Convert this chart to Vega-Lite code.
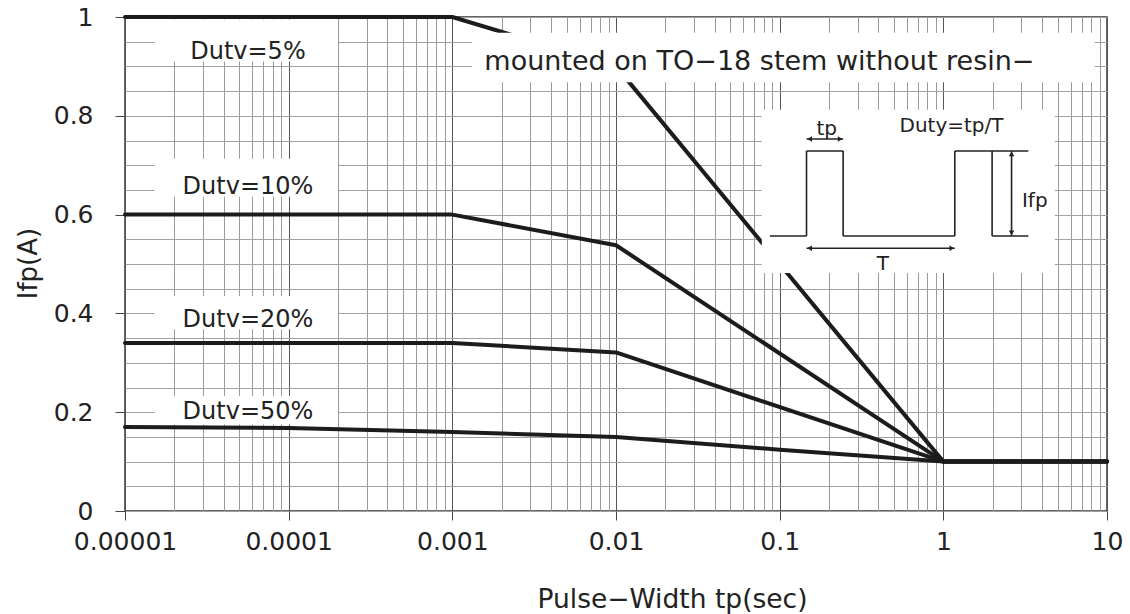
{
  "$schema": "https://vega.github.io/schema/vega-lite/v6.json",
  "width": 982,
  "height": 494,
  "autosize": {"type": "none"},
  "padding": {"left": 125, "top": 17, "right": 23, "bottom": 103},
  "background": "white",
  "config": {
    "view": {"stroke": "#333", "strokeWidth": 1.5},
    "font": "DejaVu Sans",
    "text": {"font": "DejaVu Sans"}
  },
  "datasets": {
    "curves": [
      {"series": "5%", "x": 0.00001, "y": 1.0},
      {"series": "5%", "x": 0.001, "y": 1.0},
      {"series": "5%", "x": 0.01, "y": 0.9},
      {"series": "5%", "x": 1, "y": 0.1},
      {"series": "5%", "x": 10, "y": 0.1},
      {"series": "10%", "x": 0.00001, "y": 0.6},
      {"series": "10%", "x": 0.001, "y": 0.6},
      {"series": "10%", "x": 0.01, "y": 0.538},
      {"series": "10%", "x": 1, "y": 0.1},
      {"series": "10%", "x": 10, "y": 0.1},
      {"series": "20%", "x": 0.00001, "y": 0.34},
      {"series": "20%", "x": 0.001, "y": 0.34},
      {"series": "20%", "x": 0.01, "y": 0.321},
      {"series": "20%", "x": 1, "y": 0.1},
      {"series": "20%", "x": 10, "y": 0.1},
      {"series": "50%", "x": 0.00001, "y": 0.17},
      {"series": "50%", "x": 0.0001, "y": 0.168},
      {"series": "50%", "x": 0.001, "y": 0.16},
      {"series": "50%", "x": 0.01, "y": 0.15},
      {"series": "50%", "x": 0.1, "y": 0.124},
      {"series": "50%", "x": 1, "y": 0.1},
      {"series": "50%", "x": 10, "y": 0.1}
    ],
    "underBoxes": [
      {"x": 0.0000152, "x2": 0.0002, "y": 0.91, "y2": 0.995},
      {"x": 0.0000152, "x2": 0.0002, "y": 0.636, "y2": 0.713},
      {"x": 0.0000152, "x2": 0.0002, "y": 0.368, "y2": 0.435},
      {"x": 0.0000152, "x2": 0.0002, "y": 0.175, "y2": 0.233}
    ],
    "overBoxes": [
      {"x": 0.00132, "x2": 8.4, "y": 0.868, "y2": 0.968},
      {"x": 0.0778, "x2": 4.8, "y": 0.482, "y2": 0.812}
    ],
    "inset": [
      {"x": 0.0871, "x2": 0.1459, "y": 0.5567, "y2": 0.5567},
      {"x": 0.1459, "x2": 0.1459, "y": 0.5567, "y2": 0.7287},
      {"x": 0.1459, "x2": 0.2443, "y": 0.7287, "y2": 0.7287},
      {"x": 0.2443, "x2": 0.2443, "y": 0.7287, "y2": 0.5567},
      {"x": 0.2443, "x2": 1.175, "y": 0.5567, "y2": 0.5567},
      {"x": 1.175, "x2": 1.175, "y": 0.5567, "y2": 0.7287},
      {"x": 1.175, "x2": 3.306, "y": 0.7287, "y2": 0.7287},
      {"x": 1.986, "x2": 1.986, "y": 0.7287, "y2": 0.5567},
      {"x": 1.986, "x2": 3.306, "y": 0.5567, "y2": 0.5567},
      {"x": 0.1459, "x2": 0.2443, "y": 0.753, "y2": 0.753},
      {"x": 0.1459, "x2": 1.175, "y": 0.532, "y2": 0.532},
      {"x": 2.611, "x2": 2.611, "y": 0.7287, "y2": 0.5567}
    ],
    "arrowheads": [
      {"x": 0.1524, "y": 0.753, "dir": "triangle-left"},
      {"x": 0.2342, "y": 0.753, "dir": "triangle-right"},
      {"x": 0.1524, "y": 0.532, "dir": "triangle-left"},
      {"x": 1.127, "y": 0.532, "dir": "triangle-right"},
      {"x": 2.611, "y": 0.7227, "dir": "triangle-up"},
      {"x": 2.611, "y": 0.5628, "dir": "triangle-down"}
    ],
    "dutyLabels": [
      {"x": 0.0000564, "y": 0.933, "text": "Dutv=5%"},
      {"x": 0.0000564, "y": 0.66, "text": "Dutv=10%"},
      {"x": 0.0000564, "y": 0.3907, "text": "Dutv=20%"},
      {"x": 0.0000564, "y": 0.2045, "text": "Dutv=50%"}
    ],
    "noteLabel": [
      {"x": 0.0752, "y": 0.913, "text": "mounted on TO−18 stem without resin−"}
    ],
    "insetLabels": [
      {"x": 0.1937, "y": 0.7753, "text": "tp"},
      {"x": 1.122, "y": 0.781, "text": "Duty=tp/T"},
      {"x": 0.4266, "y": 0.502, "text": "T"},
      {"x": 3.62, "y": 0.6296, "text": "Ifp"}
    ]
  },
  "encoding": {
    "x": {
      "field": "x",
      "type": "quantitative",
      "scale": {"type": "log", "domain": [0.00001, 10], "nice": false},
      "axis": {
        "values": [0.00001, 0.00002, 0.00003, 0.00004, 0.00005, 0.00006, 0.00007, 0.00008, 0.00009,
                   0.0001, 0.0002, 0.0003, 0.0004, 0.0005, 0.0006, 0.0007, 0.0008, 0.0009,
                   0.001, 0.002, 0.003, 0.004, 0.005, 0.006, 0.007, 0.008, 0.009,
                   0.01, 0.02, 0.03, 0.04, 0.05, 0.06, 0.07, 0.08, 0.09,
                   0.1, 0.2, 0.3, 0.4, 0.5, 0.6, 0.7, 0.8, 0.9,
                   1, 2, 3, 4, 5, 6, 7, 8, 9, 10],
        "labelExpr": "indexof([0.00001,0.0001,0.001,0.01,0.1,1,10], datum.value) >= 0 ? format(datum.value, '~f') : ''",
        "grid": true,
        "gridColor": {"condition": {"test": "indexof([0.00001,0.0001,0.001,0.01,0.1,1,10], datum.value) >= 0", "value": "#555"}, "value": "#9a9a9a"},
        "gridWidth": 1,
        "tickOpacity": {"condition": {"test": "indexof([0.00001,0.0001,0.001,0.01,0.1,1,10], datum.value) < 0", "value": 0}, "value": 1},
        "tickSize": 9,
        "tickColor": "#444",
        "domain": false,
        "labelFontSize": 25,
        "labelColor": "#222",
        "labelPadding": 9,
        "labelOverlap": false,
        "labelBound": false,
        "labelFlush": false,
        "title": "Pulse−Width tp(sec)",
        "titleFontSize": 26.5,
        "titleFontWeight": "normal",
        "titleColor": "#222",
        "titleX": 547,
        "titleY": 88,
        "titleBaseline": "middle",
        "titleAlign": "center"
      }
    },
    "y": {
      "field": "y",
      "type": "quantitative",
      "scale": {"domain": [0, 1], "nice": false, "zero": false},
      "axis": {
        "values": [0, 0.05, 0.1, 0.15, 0.2, 0.25, 0.3, 0.35, 0.4, 0.45, 0.5, 0.55, 0.6, 0.65, 0.7, 0.75, 0.8, 0.85, 0.9, 0.95, 1],
        "labelExpr": "(round(datum.value*100) % 20) == 0 ? format(datum.value, '~g') : ''",
        "grid": true,
        "gridColor": "#a0a0a0",
        "gridWidth": 1,
        "tickOpacity": {"condition": {"test": "(round(datum.value*100) % 20) != 0", "value": 0}, "value": 1},
        "tickSize": 10,
        "tickColor": "#444",
        "domain": false,
        "labelFontSize": 25,
        "labelColor": "#222",
        "labelPadding": 22,
        "labelOverlap": false,
        "labelBound": false,
        "labelFlush": false,
        "title": "Ifp(A)",
        "titleFontSize": 26,
        "titleFontWeight": "normal",
        "titleColor": "#222",
        "titleX": -97,
        "titleY": 246,
        "titleBaseline": "middle",
        "titleAlign": "center"
      }
    }
  },
  "layer": [
    {
      "data": {"name": "underBoxes"},
      "mark": {"type": "rect", "fill": "white", "stroke": null},
      "encoding": {"x2": {"field": "x2"}, "y2": {"field": "y2"}}
    },
    {
      "data": {"name": "curves"},
      "mark": {"type": "line", "color": "#1c1c1c", "strokeWidth": 4, "strokeJoin": "round", "strokeCap": "round"},
      "encoding": {"detail": {"field": "series", "type": "nominal"}}
    },
    {
      "data": {"name": "overBoxes"},
      "mark": {"type": "rect", "fill": "white", "stroke": null},
      "encoding": {"x2": {"field": "x2"}, "y2": {"field": "y2"}}
    },
    {
      "data": {"name": "inset"},
      "mark": {"type": "rule", "color": "#222", "strokeWidth": 1.6},
      "encoding": {"x2": {"field": "x2"}, "y2": {"field": "y2"}}
    },
    {
      "data": {"name": "arrowheads"},
      "mark": {"type": "point", "filled": true, "color": "#222", "size": 30, "opacity": 1},
      "encoding": {"shape": {"field": "dir", "type": "nominal", "scale": null}}
    },
    {
      "data": {"name": "dutyLabels"},
      "mark": {"type": "text", "fontSize": 24, "color": "#222", "align": "center", "baseline": "middle", "dy": 2},
      "encoding": {"text": {"field": "text"}}
    },
    {
      "data": {"name": "noteLabel"},
      "mark": {"type": "text", "fontSize": 27, "color": "#222", "align": "center", "baseline": "middle", "dy": 2},
      "encoding": {"text": {"field": "text"}}
    },
    {
      "data": {"name": "insetLabels"},
      "mark": {"type": "text", "fontSize": 20, "color": "#222", "align": "center", "baseline": "middle", "dy": 1},
      "encoding": {"text": {"field": "text"}}
    }
  ]
}
